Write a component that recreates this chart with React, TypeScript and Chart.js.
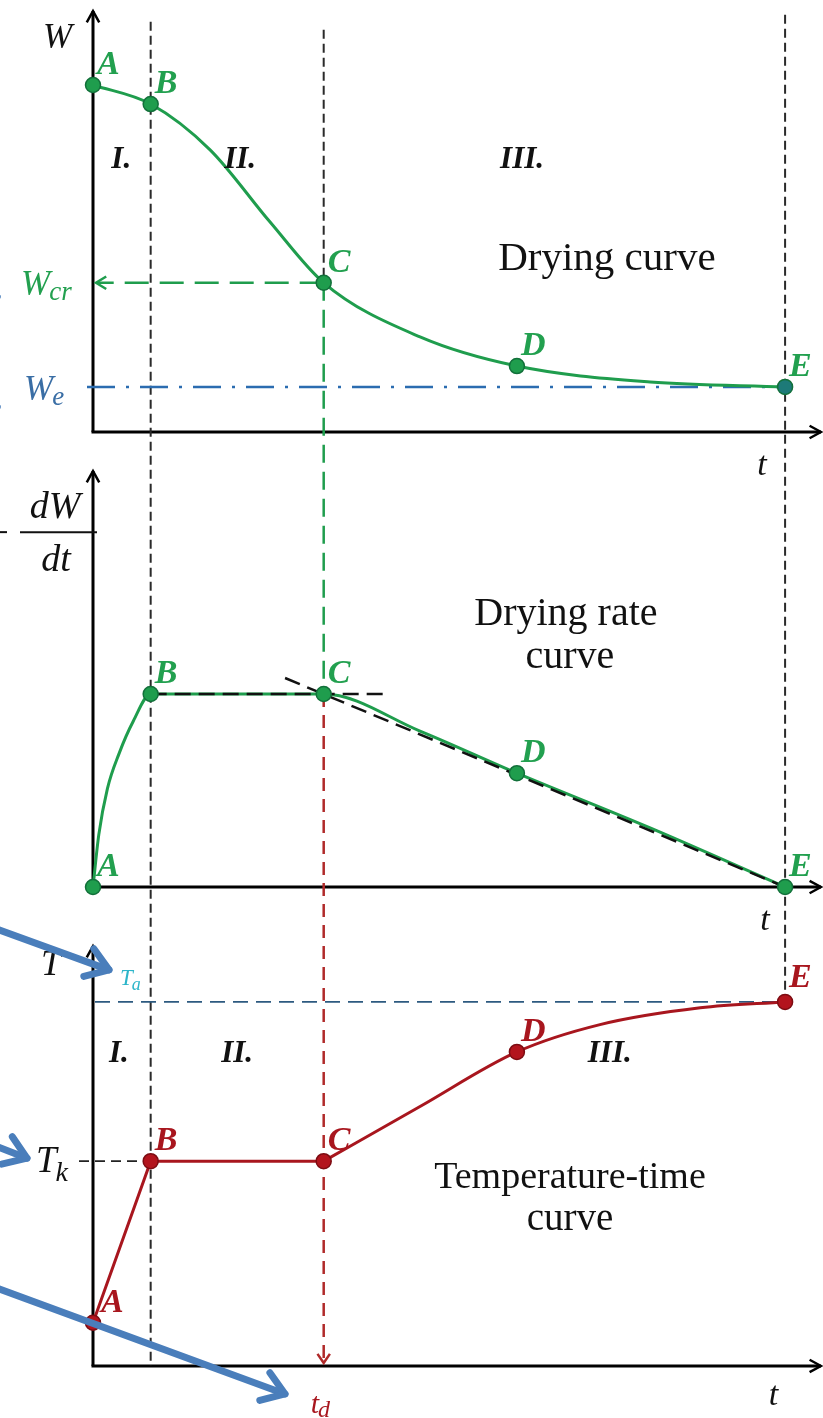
import { useEffect, useRef } from 'react';
import { Chart, registerables } from 'chart.js';

Chart.register(...registerables);

// Key instants of the drying process (time in arbitrary units)
const pointNames = ['A', 'B', 'C', 'D', 'E'];
const keyTimes = [0, 1, 4, 7.35, 12];

// Drying curve W(t)
const dryingTimes = [0, 1, 2.03, 3.07, 4, 5.67, 7.35, 9.66, 12];
const dryingMoisture = [100, 94.5, 81.3, 60.5, 43, 27.4, 19, 14.4, 13];
const dryingKeyMoisture = [100, 94.5, 43, 19, 13];
const criticalMoisture = 43; // W_cr
const equilibriumMoisture = 13; // W_e

// Drying rate curve -dW/dt
const rateTimes = [0, 0.1, 0.25, 0.45, 0.7, 1, 4, 5.67, 7.35, 9.66, 12];
const rateValues = [0, 27, 51, 69, 86, 100, 100, 80.8, 59, 30.6, 0];
const rateKeyValues = [0, 100, 100, 59, 0];
const flatTangentTimes = [1, 5.06];
const flatTangentValues = [100, 100];
const fallingTangentTimes = [3.33, 12];
const fallingTangentValues = [108.3, 0];

// Temperature-time curve
const heatingTimes = [0, 1, 4];
const heatingTemps = [9.5, 45, 45];
const fallingRateTimes = [4, 5.67, 7.35, 8.79, 10.53, 12];
const fallingRateTemps = [45, 57, 69, 75, 78.7, 80];
const temperatureKeyValues = [9.5, 45, 45, 69, 80];
const wetBulbTemp = 45; // T_k
const airTemp = 80; // T_a

const GREEN = '#1f9d4d';
const GREEN_DARK = '#12703a';
const GREEN_TEXT = '#22a04f';
const RED = '#a8161e';
const RED_DARK = '#7d0c12';
const BLUE = '#2b6cb0';
const ARROW_BLUE = '#4a7ebb';
const SERIF = '"Liberation Serif", "DejaVu Serif", serif';

const xy = (xs: number[], ys: number[]) => xs.map((x, i) => ({ x, y: ys[i] }));

function chevron(ctx: CanvasRenderingContext2D, x: number, y: number, angle: number, len: number, spread: number) {
  ctx.beginPath();
  ctx.moveTo(x - len * Math.cos(angle - spread), y - len * Math.sin(angle - spread));
  ctx.lineTo(x, y);
  ctx.lineTo(x - len * Math.cos(angle + spread), y - len * Math.sin(angle + spread));
  ctx.stroke();
}

function line(ctx: CanvasRenderingContext2D, x1: number, y1: number, x2: number, y2: number) {
  ctx.beginPath();
  ctx.moveTo(x1, y1);
  ctx.lineTo(x2, y2);
  ctx.stroke();
}

function label(ctx: CanvasRenderingContext2D, s: string, x: number, y: number, font: string, color: string, align: CanvasTextAlign = 'left') {
  ctx.font = font;
  ctx.fillStyle = color;
  ctx.textAlign = align;
  ctx.textBaseline = 'alphabetic';
  ctx.fillText(s, x, y);
}

function subscripted(ctx: CanvasRenderingContext2D, main: string, sub: string, x: number, y: number, size: number, subSize: number, subDrop: number, color: string) {
  ctx.fillStyle = color;
  ctx.textAlign = 'left';
  ctx.textBaseline = 'alphabetic';
  ctx.font = `italic ${size}px ${SERIF}`;
  ctx.fillText(main, x, y);
  const w = ctx.measureText(main).width;
  ctx.font = `italic ${subSize}px ${SERIF}`;
  ctx.fillText(sub, x + w - 1, y + subDrop);
}

const diagramPlugin = {
  id: 'dryingDiagram',
  beforeDatasetsDraw(chart: any) {
    const ctx: CanvasRenderingContext2D = chart.ctx;
    const sx = chart.scales.x;
    const X = (t: number) => sx.getPixelForValue(t);
    const Y = (id: string, v: number) => chart.scales[id].getPixelForValue(v);
    const x0 = X(0);
    const xEnd = sx.right;
    ctx.save();

    // Panel axes with arrow heads
    ctx.strokeStyle = '#000';
    ctx.lineWidth = 3;
    for (const id of ['yW', 'yR', 'yT']) {
      const yBase = Y(id, 0);
      const yTop = chart.scales[id].top + 1;
      line(ctx, x0, yBase, x0, yTop);
      line(ctx, x0 - 1.5, yBase, xEnd - 1, yBase);
      ctx.lineWidth = 2.5;
      chevron(ctx, x0, yTop, -Math.PI / 2, 13, 0.5);
      chevron(ctx, xEnd - 1, yBase, 0, 13, 0.5);
      ctx.lineWidth = 3;
    }

    // Stage boundaries
    ctx.strokeStyle = '#2a2a2a';
    ctx.lineWidth = 2;
    ctx.setLineDash([9, 5]);
    line(ctx, X(keyTimes[1]), Y('yW', 118.2), X(keyTimes[1]), Y('yT', 0));
    line(ctx, X(keyTimes[4]), Y('yW', 120.2), X(keyTimes[4]), Y('yT', airTemp));
    line(ctx, X(keyTimes[2]), Y('yW', 115.9), X(keyTimes[2]), Y('yW', criticalMoisture));

    // Critical point projected through the panels
    ctx.strokeStyle = GREEN;
    ctx.lineWidth = 2.5;
    ctx.setLineDash([18, 9]);
    line(ctx, X(keyTimes[2]), Y('yW', criticalMoisture), X(keyTimes[2]), Y('yR', rateKeyValues[2]));
    ctx.setLineDash([24, 11]);
    line(ctx, X(keyTimes[2]), Y('yW', criticalMoisture), x0 + 4, Y('yW', criticalMoisture));
    ctx.setLineDash([]);
    chevron(ctx, x0 + 3, Y('yW', criticalMoisture), Math.PI, 12, 0.55);

    ctx.strokeStyle = '#b02a2a';
    ctx.setLineDash([13, 8]);
    const tdBase = Y('yT', 0);
    line(ctx, X(keyTimes[2]), Y('yR', rateKeyValues[2]), X(keyTimes[2]), tdBase - 4);
    ctx.setLineDash([]);
    chevron(ctx, X(keyTimes[2]), tdBase - 3, Math.PI / 2, 11, 0.6);

    // Equilibrium moisture
    ctx.strokeStyle = BLUE;
    ctx.lineWidth = 2.5;
    ctx.setLineDash([28, 11, 3, 11]);
    line(ctx, x0 - 6, Y('yW', equilibriumMoisture), X(keyTimes[4]), Y('yW', equilibriumMoisture));

    // Air temperature and wet-bulb temperature
    ctx.strokeStyle = '#2d5a80';
    ctx.lineWidth = 1.6;
    ctx.setLineDash([15, 8]);
    line(ctx, x0 + 2, Y('yT', airTemp), X(keyTimes[4]), Y('yT', airTemp));
    ctx.strokeStyle = '#222';
    ctx.lineWidth = 1.8;
    ctx.setLineDash([10, 6]);
    line(ctx, x0 - 14, Y('yT', wetBulbTemp), X(keyTimes[1]), Y('yT', wetBulbTemp));
    ctx.restore();
  },
  afterDatasetsDraw(chart: any) {
    const ctx: CanvasRenderingContext2D = chart.ctx;
    const sx = chart.scales.x;
    const X = (t: number) => sx.getPixelForValue(t);
    const Y = (id: string, v: number) => chart.scales[id].getPixelForValue(v);
    const x0 = X(0);
    ctx.save();

    // Point letters
    const letterFont = `bold italic 34px ${SERIF}`;
    const markerSets: [number, string][] = [[0, GREEN_TEXT], [1, GREEN_TEXT], [2, RED]];
    for (const [idx, color] of markerSets) {
      const meta = chart.getDatasetMeta(idx);
      meta.data.forEach((pt: any, i: number) => {
        const dx = idx === 2 && i === 0 ? 8 : 4;
        const dy = idx === 2 && i === 4 ? -15 : -11;
        label(ctx, pointNames[i], pt.x + dx, pt.y + dy, letterFont, color);
      });
    }

    // Stage numbers
    const romanFont = `bold italic 31px ${SERIF}`;
    label(ctx, 'I.', X(0.49), Y('yW', 76), romanFont, '#111', 'center');
    label(ctx, 'II.', X(2.55), Y('yW', 76), romanFont, '#111', 'center');
    label(ctx, 'III.', X(7.44), Y('yW', 76), romanFont, '#111', 'center');
    label(ctx, 'I.', X(0.45), Y('yT', 66.8), romanFont, '#111', 'center');
    label(ctx, 'II.', X(2.5), Y('yT', 66.8), romanFont, '#111', 'center');
    label(ctx, 'III.', X(8.96), Y('yT', 66.8), romanFont, '#111', 'center');

    // Curve titles
    label(ctx, 'Drying curve', X(8.91), Y('yW', 46.7), `41px ${SERIF}`, '#111', 'center');
    label(ctx, 'Drying rate', X(8.2), Y('yR', 135.8), `40px ${SERIF}`, '#111', 'center');
    label(ctx, 'curve', X(8.27), Y('yR', 113.5), `40px ${SERIF}`, '#111', 'center');
    label(ctx, 'Temperature-time', X(8.27), Y('yT', 39.1), `38px ${SERIF}`, '#111', 'center');
    label(ctx, 'curve', X(8.27), Y('yT', 29.9), `39px ${SERIF}`, '#111', 'center');

    // Axis names
    const axisFont = `italic 35px ${SERIF}`;
    label(ctx, 'W', x0 - 50, Y('yW', 110.7), axisFont, '#111');
    label(ctx, 't', X(11.6), Y('yW', 0) + 43, `italic 34px ${SERIF}`, '#111', 'center');
    label(ctx, 't', X(11.65), Y('yR', 0) + 43, `italic 34px ${SERIF}`, '#111', 'center');
    label(ctx, 't', X(11.8), Y('yT', 0) + 39, `italic 34px ${SERIF}`, '#111', 'center');
    subscripted(ctx, 'W', 'cr', x0 - 72, Y('yW', criticalMoisture) + 12, 35, 27, 5, GREEN_TEXT);
    subscripted(ctx, 'W', 'e', x0 - 69, Y('yW', equilibriumMoisture) + 13, 35, 27, 5, '#3a6ea5');

    // -dW/dt
    const yFrac = Y('yR', 183.9);
    ctx.strokeStyle = '#111';
    ctx.lineWidth = 2;
    line(ctx, x0 - 73, yFrac, x0 + 4, yFrac);
    line(ctx, -2, yFrac, 7, yFrac);
    label(ctx, 'dW', x0 - 38, yFrac - 14, `italic 38px ${SERIF}`, '#111', 'center');
    label(ctx, 'dt', x0 - 37, yFrac + 39, `italic 38px ${SERIF}`, '#111', 'center');

    label(ctx, 'T', x0 - 52, Y('yT', 85.9), `italic 36px ${SERIF}`, '#111');
    subscripted(ctx, 'T', 'a', x0 + 27, Y('yT', airTemp) - 17, 23, 18, 5, '#2cb5c9');
    subscripted(ctx, 'T', 'k', x0 - 57, Y('yT', wetBulbTemp) + 11, 37, 28, 9, '#111');
    subscripted(ctx, 't', 'd', X(keyTimes[2]) - 13, Y('yT', 0) + 47, 30, 24, 4, RED);
    ctx.restore();
  },
  afterDraw(chart: any) {
    const ctx: CanvasRenderingContext2D = chart.ctx;
    const Y = (id: string, v: number) => chart.scales[id].getPixelForValue(v);
    const x0 = chart.scales.x.getPixelForValue(0);
    ctx.save();
    ctx.strokeStyle = ARROW_BLUE;
    ctx.lineWidth = 7;
    ctx.lineCap = 'round';
    ctx.lineJoin = 'round';
    const pointer = (x1: number, y1: number, x2: number, y2: number, head = 26) => {
      line(ctx, x1, y1, x2, y2);
      chevron(ctx, x2, y2, Math.atan2(y2 - y1, x2 - x1), head, 0.6);
    };
    // Callout pointers towards the labelled quantities
    pointer(-80, Y('yW', criticalMoisture) - 30, -3, Y('yW', criticalMoisture) + 14, 14);
    pointer(-80, Y('yW', equilibriumMoisture) - 10, -3, Y('yW', equilibriumMoisture) + 20, 14);
    pointer(-20, Y('yT', airTemp) - 79, x0 + 16, Y('yT', airTemp) - 32);
    pointer(-50, Y('yT', wetBulbTemp) - 33, x0 - 66, Y('yT', wetBulbTemp) - 3);
    pointer(-20, Y('yT', 0) - 84, 285, Y('yT', 0) + 28);
    ctx.restore();
  },
};

export default function App() {
  const ref = useRef<HTMLCanvasElement>(null);

  useEffect(() => {
    const canvas = ref.current;
    if (!canvas) return;
    const markerBase = { showLine: false, pointRadius: 7.5, pointBorderWidth: 1.5, clip: false as const, order: 0 };
    const curveBase = { pointRadius: 0, clip: false as const, order: 2, borderWidth: 3, fill: false };
    const chart = new Chart(canvas, {
      type: 'line',
      data: {
        datasets: [
          {
            ...markerBase,
            data: xy(keyTimes, dryingKeyMoisture),
            yAxisID: 'yW',
            pointBackgroundColor: [GREEN, GREEN, GREEN, GREEN, '#1d7a78'],
            pointBorderColor: GREEN_DARK,
          },
          {
            ...markerBase,
            data: xy(keyTimes, rateKeyValues),
            yAxisID: 'yR',
            pointBackgroundColor: GREEN,
            pointBorderColor: GREEN_DARK,
          },
          {
            ...markerBase,
            data: xy(keyTimes, temperatureKeyValues),
            yAxisID: 'yT',
            pointBackgroundColor: '#b3141d',
            pointBorderColor: RED_DARK,
          },
          {
            data: xy(flatTangentTimes, flatTangentValues),
            yAxisID: 'yR',
            borderColor: '#111',
            borderWidth: 2.5,
            borderDash: [16, 8],
            pointRadius: 0,
            clip: false,
            order: 1,
          },
          {
            data: xy(fallingTangentTimes, fallingTangentValues),
            yAxisID: 'yR',
            borderColor: '#111',
            borderWidth: 2.5,
            borderDash: [16, 8],
            pointRadius: 0,
            clip: false,
            order: 1,
          },
          {
            ...curveBase,
            data: xy(dryingTimes, dryingMoisture),
            yAxisID: 'yW',
            borderColor: GREEN,
            cubicInterpolationMode: 'monotone',
          },
          {
            ...curveBase,
            data: xy(rateTimes, rateValues),
            yAxisID: 'yR',
            borderColor: GREEN,
            cubicInterpolationMode: 'monotone',
          },
          {
            ...curveBase,
            data: xy(heatingTimes, heatingTemps),
            yAxisID: 'yT',
            borderColor: RED,
            tension: 0,
          },
          {
            ...curveBase,
            data: xy(fallingRateTimes, fallingRateTemps),
            yAxisID: 'yT',
            borderColor: RED,
            cubicInterpolationMode: 'monotone',
          },
        ],
      },
      options: {
        responsive: false,
        animation: false,
        events: [],
        layout: { autoPadding: false, padding: { top: 10, left: 93, right: 1, bottom: 0 } },
        plugins: { legend: { display: false }, tooltip: { enabled: false } },
        scales: {
          x: { type: 'linear', min: 0, max: 12.64, display: false },
          yT: { type: 'linear', position: 'left', stack: 'panels', stackWeight: 473, min: -11.43, max: 92.5, display: false },
          yR: { type: 'linear', position: 'left', stack: 'panels', stackWeight: 475, min: -30.05, max: 216.1, display: false },
          yW: { type: 'linear', position: 'left', stack: 'panels', stackWeight: 460, min: -10.95, max: 121.6, display: false },
        },
      },
      plugins: [diagramPlugin],
    });
    return () => chart.destroy();
  }, []);

  return (
    <div style={{ position: 'absolute', left: 0, top: 0, width: 823, height: 1418, background: '#fff', overflow: 'hidden' }}>
      <canvas ref={ref} width={823} height={1418} style={{ display: 'block' }} />
    </div>
  );
}
